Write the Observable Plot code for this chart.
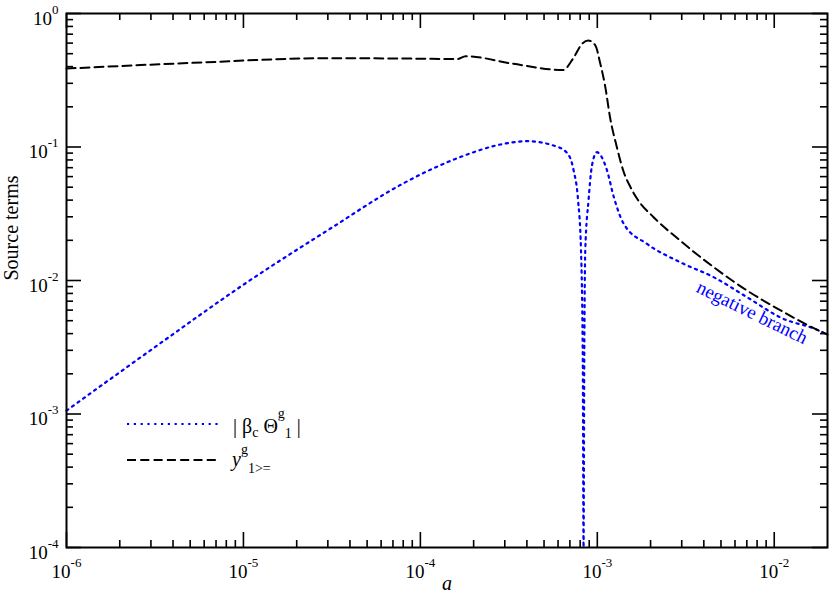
<!DOCTYPE html>
<html><head><meta charset="utf-8">
<script src="https://cdn.jsdelivr.net/npm/d3@7"></script>
<script src="https://cdn.jsdelivr.net/npm/@observablehq/plot@0.6"></script>
<style>
body{margin:0;background:#fff;}
#chart svg{font-family:"Liberation Serif","Times New Roman",serif;background:#fff;}
</style></head><body><div id="chart"></div>
<script>
// |beta_c Theta^g_1| (blue dotted)
const betaA = [1e-6, 3.14e-6, 1e-5, 3.1e-5, 8.05e-5, 1.19e-4, 1.84e-4, 2.83e-4, 4.0e-4, 5.66e-4, 6.74e-4, 7.35e-4, 7.78e-4, 8.09e-4, 8.28e-4, 8.36e-4, 8.44e-4, 8.55e-4, 8.93e-4, 9.33e-4, 9.96e-4, 1.06e-3, 1.135e-3, 1.24e-3, 1.41e-3, 1.91e-3, 2.94e-3, 4.54e-3, 7.02e-3, 1.08e-2, 1.89e-2, 2.0e-2];
const betaV = [1.06e-3, 3.15e-3, 9.3e-3, 0.0245, 0.0536, 0.0694, 0.0879, 0.1044, 0.1105, 0.1026, 0.0905, 0.0667, 0.0404, 0.0168, 2.5e-3, 1e-4, 2.5e-3, 0.0168, 0.0404, 0.0727, 0.0914, 0.0839, 0.0667, 0.0421, 0.0266, 0.0188, 0.0137, 0.0106, 0.0075, 0.0053, 0.00407, 0.0039];
// y^g_{1>=} (black dashed)
const yA = [1e-6, 5.2e-6, 3.0e-5, 7.7e-5, 1.62e-4, 1.80e-4, 3.35e-4, 6.4e-4, 7.3e-4, 8.2e-4, 8.9e-4, 9.75e-4, 1.04e-3, 1.11e-3, 1.18e-3, 1.29e-3, 1.41e-3, 1.54e-3, 1.68e-3, 2.08e-3, 2.94e-3, 4.54e-3, 7.02e-3, 1.08e-2, 1.89e-2, 2.0e-2];
const yV = [0.387, 0.427, 0.463, 0.460, 0.456, 0.479, 0.420, 0.377, 0.460, 0.593, 0.628, 0.576, 0.420, 0.281, 0.167, 0.0997, 0.065, 0.050, 0.0409, 0.0298, 0.0199, 0.0126, 0.00841, 0.0060, 0.00407, 0.00394];

const xMajorTicks = [1e-6, 1e-5, 1e-4, 1e-3, 1e-2];
const yMajorTicks = [1e-4, 1e-3, 1e-2, 1e-1, 1];
const xDomain = [1e-6, 0.02];
const yDomain = [1e-4, 1];
const annotation = [{a: 7.5e-3, v: 5.75e-3, text: "negative branch"}];
const xTitle = "a";
const yTitle = "Source terms";

const W = 830, H = 598, mL = 66, mR = 3, mT = 13, mB = 51;
const innerW = W - mL - mR, innerH = H - mT - mB;

function minorTicks(lo, hi) {
  const out = [];
  for (let k = Math.floor(Math.log10(lo)); k <= Math.ceil(Math.log10(hi)); k++)
    for (let m = 2; m <= 9; m++) { const v = m * Math.pow(10, k); if (v > lo && v < hi) out.push(v); }
  return out;
}
const xMinor = minorTicks(...xDomain), yMinor = minorTicks(...yDomain);

const beta = betaA.map((a, i) => ({a, v: betaV[i]}));
const ydat = yA.map((a, i) => ({a, v: yV[i]}));
const fmt = d => "10^" + Math.round(Math.log10(d));

const tk = {stroke: "black", strokeWidth: 1.6};
const plot = Plot.plot({
  width: W, height: H, marginLeft: mL, marginRight: mR, marginTop: mT, marginBottom: mB,
  style: {fontSize: "19px", fontFamily: "Liberation Serif, Times New Roman, serif", background: "#fff", color: "black", overflow: "visible"},
  x: {type: "log", domain: xDomain, ticks: xMajorTicks, tickFormat: fmt, tickSize: 0, tickPadding: 17, label: null},
  y: {type: "log", domain: yDomain, ticks: yMajorTicks, tickFormat: fmt, tickSize: 0, tickPadding: 8, label: null},
  marks: [
    Plot.ruleX(xMajorTicks, {...tk, insetTop: innerH - 15}),
    Plot.ruleX(xMajorTicks, {...tk, insetBottom: innerH - 15}),
    Plot.ruleX(xMinor, {...tk, insetTop: innerH - 7}),
    Plot.ruleX(xMinor, {...tk, insetBottom: innerH - 7}),
    Plot.ruleY(yMajorTicks, {...tk, insetRight: innerW - 15}),
    Plot.ruleY(yMajorTicks, {...tk, insetLeft: innerW - 15}),
    Plot.ruleY(yMinor, {...tk, insetRight: innerW - 7}),
    Plot.ruleY(yMinor, {...tk, insetLeft: innerW - 7}),
    Plot.line(beta, {x: "a", y: "v", stroke: "#0000ff", strokeWidth: 2.2, strokeDasharray: "2.2,4.6", curve: "monotone-x"}),
    Plot.line(ydat, {x: "a", y: "v", stroke: "black", strokeWidth: 2, strokeDasharray: "9,5", curve: "monotone-x"}),
    Plot.text(annotation, {x: "a", y: "v", text: "text", rotate: 26, fill: "#0000ff", fontSize: 19}),
    Plot.text([yTitle], {text: d => d, frameAnchor: "left", dx: -55, rotate: -90, fontSize: 20, fill: "black"}),
    Plot.text([xTitle], {text: d => d, frameAnchor: "bottom", dy: 42, fontSize: 20, fontStyle: "italic", fill: "black"}),
    Plot.frame({stroke: "black", strokeWidth: 2})
  ]
});
document.getElementById("chart").appendChild(plot);

// superscript exponents in tick labels
d3.select(plot).selectAll("text").each(function() {
  const t = this.textContent;
  const m = /^10\^(-?\d+)$/.exec(t);
  if (!m) return;
  const isY = !!this.closest('[aria-label^="y-axis"]');
  const sel = d3.select(this);
  sel.text("");
  sel.append("tspan").attr("dy", isY ? 5 : 0).text("10");
  sel.append("tspan").attr("dy", -11).attr("font-size", 13).text(m[1]);
});

// legend
const svg = d3.select(plot);
const lg = svg.append("g").attr("font-size", 20).attr("fill", "black").attr("text-anchor", "start");
lg.append("line").attr("x1", 127).attr("x2", 219).attr("y1", 424).attr("y2", 424)
  .attr("stroke", "#0000ff").attr("stroke-width", 2.2).attr("stroke-dasharray", "2.2,4.6");
lg.append("line").attr("x1", 127).attr("x2", 219).attr("y1", 460).attr("y2", 460)
  .attr("stroke", "black").attr("stroke-width", 2).attr("stroke-dasharray", "9,4.3");
const t1 = lg.append("text").attr("x", 233).attr("y", 433);
t1.append("tspan").text("| β");
t1.append("tspan").attr("dy", 4).attr("font-size", 14).text("c");
t1.append("tspan").attr("dy", -4).text(" Θ");
t1.append("tspan").attr("dy", -15).attr("font-size", 14).text("g");
t1.append("tspan").attr("dy", 20).attr("font-size", 14).text("1");
t1.append("tspan").attr("dy", -5).text(" |");
const t2 = lg.append("text").attr("x", 232).attr("y", 466);
t2.append("tspan").attr("font-style", "italic").text("y");
t2.append("tspan").attr("dy", -12).attr("font-size", 14).text("g");
t2.append("tspan").attr("dy", 19).attr("font-size", 14).text("1>=");
</script></body></html>
